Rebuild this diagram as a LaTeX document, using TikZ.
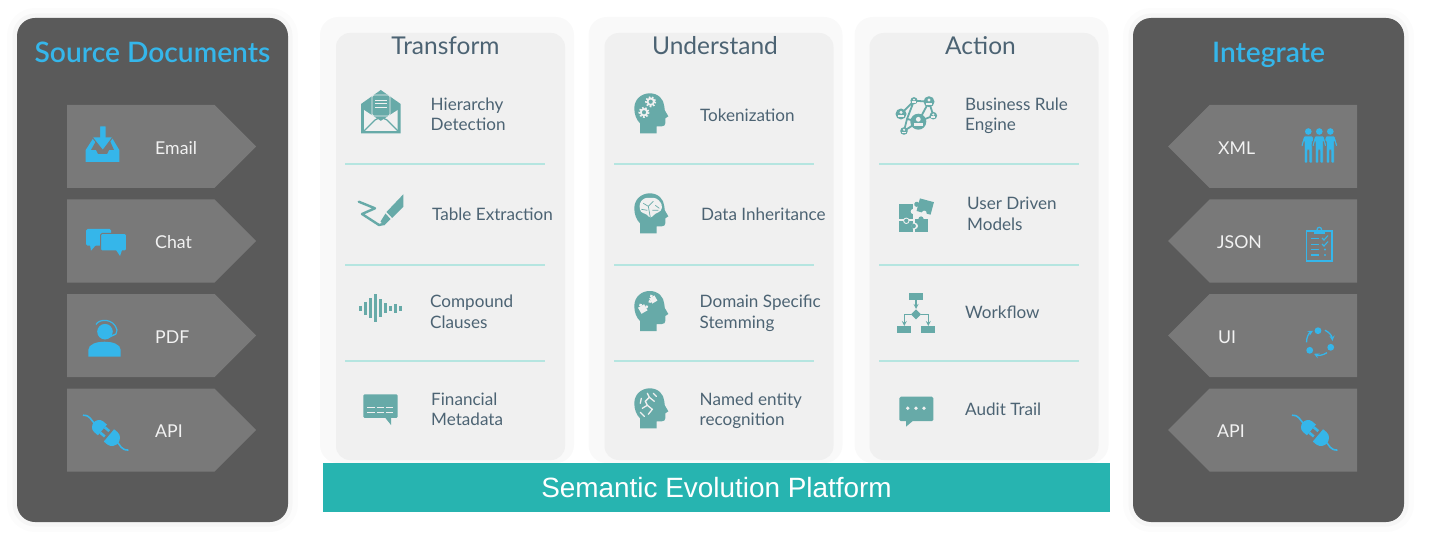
\documentclass[tikz,border=0pt]{standalone}
\usepackage{fontspec}
\setmainfont{Lato}
\newfontfamily\barfont{Liberation Sans}
\newfontfamily\titlefont{Lato Semibold}
\usetikzlibrary{positioning,arrows,shapes.symbols}

\definecolor{darkpanel}{HTML}{5A5A5A}
\definecolor{chevgray}{HTML}{797979}
\definecolor{skyblue}{HTML}{35B6EA}
\definecolor{lightpanel}{HTML}{F0F0F0}
\definecolor{softglow}{HTML}{F9F9F9}
\definecolor{haloA}{HTML}{FCFCFC}
\definecolor{haloB}{HTML}{F6F6F6}
\definecolor{slatetext}{HTML}{4C6373}
\definecolor{icontint}{HTML}{67AAA8}
\definecolor{rulemint}{HTML}{B5E5E0}
\definecolor{barteal}{HTML}{27B4B0}

\tikzset{
    sidepanel/.style={rectangle, rounded corners=18pt, fill=darkpanel, inner sep=0, outer sep=0,
        minimum width=271pt, minimum height=504pt,
        preaction={draw=haloA, line width=20pt}, preaction={draw=haloB, line width=9pt}},
    columnglow/.style={rectangle, rounded corners=18pt, fill=softglow, inner sep=0,
        minimum width=254pt, minimum height=446pt},
    columnpanel/.style={rectangle, rounded corners=14pt, fill=lightpanel, inner sep=0,
        minimum width=229pt, minimum height=427pt},
    chevron/.style={signal, signal to=#1, signal pointer angle=90, fill=chevgray, inner sep=0, outer sep=0,
        minimum width=189pt, minimum height=83pt},
    sidetitle/.style={text=skyblue, anchor=base, inner sep=0, font=\fontsize{28.2}{30}\selectfont\titlefont},
    sidelabel/.style={text=white!95!black, inner sep=0, yshift=-1.5pt, font=\fontsize{17.7}{20}\selectfont},
    columntitle/.style={text=slatetext, inner sep=0, font=\fontsize{24.5}{28}\selectfont},
    itemlabel/.style={text=slatetext, anchor=west, align=left, inner sep=0, font=\fontsize{17.1}{20.5}\selectfont},
    itemrule/.style={draw=rulemint, line width=1.3pt}
}

\newcommand{\plugicon}[2]{
    \begin{scope}[shift={(#1,#2)}, rotate=-40]
        \fill[skyblue] (-4,-7) -- (-4,7) -- (-9,7) .. controls (-13,7) and (-15.5,3) .. (-15.5,0)
            .. controls (-15.5,-3) and (-13,-7) .. (-9,-7) -- cycle;
        \fill[skyblue] (-4,-4.8) rectangle (2,-2.2);
        \fill[skyblue] (-4,2.2) rectangle (2,4.8);
        \fill[skyblue] (4.5,-8) -- (4.5,8) -- (9,8) .. controls (14,8) and (16.5,3) .. (16.5,0)
            .. controls (16.5,-3) and (14,-8) .. (9,-8) -- cycle;
        \draw[skyblue, line width=1.6pt, line cap=round] (-15,0) .. controls (-19,0) and (-22.6,-3.5) .. (-28,1);
        \draw[skyblue, line width=1.6pt, line cap=round] (16,0) .. controls (19,0) and (23,3.5) .. (28.5,-1);
    \end{scope}
}
\newcommand{\headicon}[2]{
    \fill[icontint, shift={(#1,#2)}] (5.7,40) -- (5.7,30) .. controls (2,26.5) and (0,21) .. (0,15)
        .. controls (0,6) and (7,0) .. (15.5,0) .. controls (24,0) and (29.5,6) .. (30,13)
        -- (30.5,17) -- (34,23) -- (31,25) -- (31,30) .. controls (31,32) and (29.5,33) .. (27.5,33)
        -- (22.3,33) -- (22.3,40) -- cycle;
}
\newcommand{\gearicon}[3]{
    \draw[lightpanel, line width=2pt, dash pattern=on 1.6pt off 1.6pt] (#1,#2) circle[radius=#3];
    \draw[lightpanel, line width=1.8pt] (#1,#2) circle[radius=#3-1.4];
}
\newcommand{\figureicon}[2]{
    \fill[skyblue, draw=chevgray, line width=0.7pt, shift={(#1,#2)}, rounded corners=0.8pt]
        (-4.5,8) -- (4.5,8) -- (7.5,18) -- (5.5,19) -- (4,13) -- (4,35) -- (0.7,35) -- (0.7,22)
        -- (-0.7,22) -- (-0.7,35) -- (-4,35) -- (-4,13) -- (-5.5,19) -- (-7.5,18) -- cycle;
    \fill[skyblue] (#1,#2+3.5) circle[radius=3.3];
}
\newcommand{\netnode}[3]{
    \fill[icontint] (#1,#2) circle[radius=#3];
    \fill[lightpanel] (#1,#2-#3*0.3) circle[radius=#3*0.3];
    \fill[lightpanel] (#1-#3*0.55,#2+#3*0.6) rectangle (#1+#3*0.55,#2+#3*0.15);
}

\begin{document}
\begin{tikzpicture}[x=1pt, y=-1pt]
    \useasboundingbox (0,0) rectangle (1430,548);

    %Panels
    \node[sidepanel] (srcpanel) at (152.5,270) {};
    \node[sidepanel] (intpanel) at (1268.5,270) {};
    \node[columnglow] (transglow) at (447,240) {};
    \node[columnglow] (undglow) at (715.5,240) {};
    \node[columnglow] (actglow) at (981.5,240) {};
    \node[columnpanel] (transpanel) at (450.5,246.5) {};
    \node[columnpanel] (undpanel) at (719,246.5) {};
    \node[columnpanel] (actpanel) at (984,246.5) {};
    \node[rectangle, fill=barteal, text=white, inner sep=0, minimum width=787pt, minimum height=49pt,
        font=\fontsize{27.9}{30}\selectfont\barfont] (platform) at (716.5,487.5) {Semantic Evolution Platform};

    %Titles
    \node[sidetitle] (srctitle) at (152.5,62.5) {Source Documents};
    \node[sidetitle] (inttitle) at (1268.5,62.5) {Integrate};
    \node[columntitle] (transtitle) at (445.5,46) {Transform};
    \node[columntitle] (undtitle) at (715,46) {Understand};
    \node[columntitle] (acttitle) at (980.5,46) {Action};

    %Left chevrons
    \node[chevron=east, anchor=west] (email) at (67,146.5) {};
    \node[chevron=east] (chat)  [below=11.5pt of email] {};
    \node[chevron=east] (pdf)   [below=11.5pt of chat]  {};
    \node[chevron=east] (apisrc) [below=11.5pt of pdf]  {};
    \node[sidelabel] (emaillabel) [right=88pt of email.west]  {Email};
    \node[sidelabel] (chatlabel)  [right=88pt of chat.west]   {Chat};
    \node[sidelabel] (pdflabel)   [right=88pt of pdf.west]    {PDF};
    \node[sidelabel] (apisrclabel) [right=88pt of apisrc.west] {API};

    %Right chevrons
    \node[chevron=west, anchor=east] (xml)  at (1357,146.5) {};
    \node[chevron=west] (json) [below=11.5pt of xml]  {};
    \node[chevron=west] (ui)   [below=11.5pt of json] {};
    \node[chevron=west] (apiint) [below=11.5pt of ui] {};
    \node[sidelabel] (xmllabel)  [right=50pt of xml.west]    {XML};
    \node[sidelabel] (jsonlabel) [right=49pt of json.west]   {JSON};
    \node[sidelabel] (uilabel)   [right=50pt of ui.west]     {UI};
    \node[sidelabel] (apiintlabel) [right=49pt of apiint.west] {API};

    %Column items
    \node[itemlabel] (hierarchy) at (430.5,114.5) {Hierarchy\\Detection};
    \node[itemlabel] (tablex)    at (432,214)   {Table Extraction};
    \node[itemlabel] (compound)  at (430,312)   {Compound\\Clauses};
    \node[itemlabel] (financial) at (431,409.5) {Financial\\Metadata};
    \node[itemlabel] (token)     at (700,115)   {Tokenization};
    \node[itemlabel] (inherit)   at (701,214)   {Data Inheritance};
    \node[itemlabel] (domain)    at (699.5,313.5) {Domain Specific\\Stemming};
    \node[itemlabel] (named)     at (699.5,411) {Named entity\\recognition};
    \node[itemlabel] (business)  at (965,116)   {Business Rule\\Engine};
    \node[itemlabel] (userdriven) at (967,214)  {User Driven\\Models};
    \node[itemlabel] (workflow)  at (965,312)   {Workflow};
    \node[itemlabel] (audit)     at (965,409)   {Audit Trail};

    %Rules
    \draw[itemrule] (345,164) -- (545,164) (345,265) -- (545,265) (345,361) -- (545,361);
    \draw[itemrule] (614,164) -- (814,164) (614,265) -- (814,265) (614,361) -- (814,361);
    \draw[itemrule] (879,164) -- (1079,164) (879,265) -- (1079,265) (879,361) -- (1079,361);

    %Inbox icon
    \fill[skyblue] (85.7,162) -- (85.7,150) -- (94,137) -- (111.5,137) -- (119.3,150) -- (119.3,162) -- cycle;
    \fill[chevgray] (91,150) -- (96,141) -- (110,141) -- (114,150) -- (109,150) -- (107,154) -- (98,154) -- (96,150) -- cycle;
    \fill[chevgray] (89,134) rectangle (116,137);
    \fill[skyblue, draw=chevgray, line width=1pt] (99.5,126) -- (106,126) -- (106,137) -- (113,137) -- (102.8,150.5) -- (92,137) -- (99.5,137) -- cycle;

    %Chat icon
    \fill[skyblue, rounded corners=1.5pt] (86,229) rectangle (111,245.7);
    \fill[skyblue] (90,245) -- (91,250.7) -- (96,245) -- cycle;
    \fill[skyblue, draw=chevgray, line width=1pt, rounded corners=1.5pt] (100.5,233.5) rectangle (126.5,251);
    \fill[skyblue] (116,250) -- (120,256) -- (122,250) -- cycle;

    %Support icon
    \fill[skyblue] (105,331.7) circle[radius=7.8];
    \fill[skyblue] (88.3,356.7) -- (88.3,350) .. controls (88.3,344) and (97,341.7) .. (104.5,341.7)
        .. controls (112,341.7) and (120.7,344) .. (120.7,350) -- (120.7,356.7) -- cycle;
    \draw[skyblue, line width=1.2pt] (96,324.5) .. controls (99,318.5) and (114,318) .. (117,330) -- (116,334);
    \draw[skyblue, line width=1.4pt] (116,334) -- (107,338);

    %Plug icons
    \plugicon{105.5}{432.5}
    \plugicon{1314.5}{432.5}

    %People icon
    \figureicon{1308.3}{128}
    \figureicon{1330.3}{128}
    \figureicon{1319.3}{128}

    %Clipboard icon
    \draw[skyblue, line width=1.5pt] (1306.5,231) rectangle (1332,261);
    \fill[skyblue] (1314,231) rectangle (1325,234.5);
    \draw[skyblue, line width=1.2pt] (1319.3,229.5) circle[radius=2.2];
    \draw[skyblue, line width=1.1pt] (1311,238.5) -- (1319,238.5) (1311,244.3) -- (1319,244.3)
        (1311,249.5) -- (1319,249.5) (1311,255) -- (1319,255);
    \draw[skyblue, line width=1.1pt] (1322,238) -- (1324,240) -- (1328,235.5) (1322,244) -- (1324,246) -- (1328,241.5);
    \fill[skyblue] (1325,249.5) circle[radius=1.2] (1325,255) circle[radius=1.2];

    %Cycle icon
    \fill[skyblue] (1318,330.7) circle[radius=3.4] (1330.7,347.3) circle[radius=3.4] (1309.7,350.3) circle[radius=3.4];
    \begin{scope}[shift={(1319.5,342)}]
        \draw[->, >=stealth, skyblue, line width=1.3pt] (-65:13) arc[start angle=-65, end angle=-5, radius=13];
        \draw[->, >=stealth, skyblue, line width=1.3pt] (55:13) arc[start angle=55, end angle=115, radius=13];
        \draw[->, >=stealth, skyblue, line width=1.3pt] (178:13) arc[start angle=178, end angle=240, radius=13];
    \end{scope}

    %Envelope icon
    \fill[icontint] (361,133.3) -- (361,104) -- (380.8,90) -- (400.7,104) -- (400.7,133.3) -- cycle;
    \fill[lightpanel] (364,110) -- (380.8,121) -- (397.7,110) -- (397.7,131) -- (364,131) -- cycle;
    \draw[icontint, line width=1.3pt] (363,132) -- (375,120) -- (380.8,117) -- (387,120) -- (399,132);
    \fill[icontint, draw=lightpanel, line width=0.8pt, rounded corners=1.5pt] (372,95) rectangle (390,116);
    \draw[lightpanel, line width=0.9pt] (375,100) -- (387,100) (375,103.5) -- (387,103.5) (375,107) -- (387,107);

    %Pen icon
    \draw[icontint, line width=2.4pt, line cap=round, line join=round] (358.8,201.7) -- (375,208.3) -- (362,214) -- (379,225) -- (383.5,224);
    \fill[icontint] (403.3,194.3) -- (403.3,206.7) -- (392.2,218) -- (386.5,212) -- cycle;
    \fill[icontint] (385.5,213.5) -- (390.5,219) -- (384,225.5) -- (380.5,221.5) -- cycle;

    %Waveform icon
    \draw[icontint, line width=2.6pt]
        (360.7,305.8) -- (360.7,310.8) (365.7,301.8) -- (365.7,314.8) (370.7,298.3) -- (370.7,318.3)
        (375.7,294.3) -- (375.7,322.3) (380.7,299.3) -- (380.7,317.3) (385.7,303.3) -- (385.7,313.3)
        (390.7,305.8) -- (390.7,310.8) (395.7,303.8) -- (395.7,312.8) (400.3,305.8) -- (400.3,310.8);

    %Dashed note icon
    \fill[icontint, rounded corners=1.2pt] (363.3,394.3) rectangle (397.7,417.9);
    \fill[icontint] (385,417.5) -- (391,425) -- (391,417.5) -- cycle;
    \draw[lightpanel, line width=1.2pt] (367.3,407.7) -- (375,407.7) (377,407.7) -- (384,407.7) (386,407.7) -- (393.3,407.7)
        (367.3,412.3) -- (375,412.3) (377,412.3) -- (384,412.3) (386,412.3) -- (393.3,412.3);

    %Gear head icon
    \headicon{634.3}{93.3}
    \gearicon{650.7}{101.7}{4.6}
    \gearicon{644}{112.3}{4.6}

    %Brain head icon
    \headicon{634.3}{193.3}
    \begin{scope}[shift={(634.3,193.3)}]
        \fill[lightpanel, rounded corners=3pt] (5,10) -- (10,4.5) -- (22,4.5) -- (28,11) -- (27,18) -- (21,20)
            -- (16,25.5) -- (13,21) -- (6,19) -- cycle;
        \draw[icontint, line width=0.7pt] (9,10) -- (14,13) -- (19,8) (14,13) -- (16,24) (21,12) -- (25,15)
            (7,16) -- (13,17) (18,17) -- (24,17);
    \end{scope}

    %Puzzle head icon
    \headicon{634.3}{291}
    \begin{scope}[shift={(634.3,291)}]
        \begin{scope}[shift={(8.5,18)}, rotate=30]
            \fill[lightpanel] (-3.5,-3.5) rectangle (3.5,3.5);
            \fill[lightpanel] (0,-4.5) circle[radius=1.7] (4.5,0) circle[radius=1.7];
        \end{scope}
        \begin{scope}[shift={(19,8.5)}, rotate=30]
            \fill[lightpanel] (-3,-3) rectangle (3,3);
            \fill[lightpanel] (0,-4) circle[radius=1.6] (-4,0) circle[radius=1.6];
        \end{scope}
    \end{scope}

    %Circuit head icon
    \headicon{634.3}{388.3}
    \begin{scope}[shift={(634.3,388.3)}]
        \draw[lightpanel, line width=1.3pt, line cap=round] (13,5) -- (15,9) -- (11,13) -- (13,17) -- (8,20)
            (19,5) -- (22,8) (15,9) -- (20,13) (13,17) -- (18,21) -- (14,26) (7,10) -- (6,15) (6,24) -- (10,28);
    \end{scope}

    %Network icon
    \draw[icontint, line width=1.8pt] (901,114) -- (914,100.7) -- (929,101.7) -- (933.3,115.7) -- (918.3,121.7) -- (904,131)
        (914,100.7) -- (907,119) -- (904,131) (907,119) -- (918.3,121.7) (929,101.7) -- (918.3,121.7);
    \netnode{901}{114}{5.5}
    \netnode{914}{100.7}{3.6}
    \netnode{929}{101.7}{5.5}
    \netnode{918.3}{121.7}{8}
    \netnode{933.3}{115.7}{3.8}
    \netnode{904}{131}{3.8}

    %Jigsaw icon
    \fill[icontint] (899.3,204) rectangle (913.3,219.3);
    \fill[icontint] (899.3,220.8) rectangle (913.3,232.3);
    \fill[icontint] (914.8,219.3) rectangle (927.7,232.3);
    \fill[lightpanel] (913.3,211.5) circle[radius=2.6] (906.3,220.8) circle[radius=3.2] (914.8,226) circle[radius=3.2];
    \fill[icontint] (906.3,220.8) circle[radius=2.1] (913.6,226) circle[radius=2.3] (921,219) circle[radius=2.6];
    \begin{scope}[shift={(925,206.5)}, rotate=-15]
        \fill[icontint] (-7,-6.5) rectangle (7.5,6.5);
        \fill[icontint] (-8.5,0) circle[radius=2.6];
        \fill[lightpanel] (1,6.5) circle[radius=2.4];
    \end{scope}

    %Flowchart icon
    \fill[icontint] (909.3,292.7) rectangle (923.3,300);
    \fill[icontint] (897.3,326) rectangle (911.3,333.3);
    \fill[icontint] (921.3,326) rectangle (935.3,333.3);
    \fill[icontint] (916,309.3) -- (921,314.3) -- (916,319.3) -- (911,314.3) -- cycle;
    \draw[->, >=stealth, icontint, line width=1.2pt] (916,300) -- (916,309);
    \draw[->, >=stealth, icontint, line width=1.2pt] (911,314.3) -- (904.3,314.3) -- (904.3,326);
    \draw[->, >=stealth, icontint, line width=1.2pt] (921,314.3) -- (928.3,314.3) -- (928.3,326);

    %Speech icon
    \fill[icontint, rounded corners=1.5pt] (899.3,396.7) rectangle (933.3,421.2);
    \fill[icontint] (906,420.5) -- (906,426.7) -- (913.3,420.5) -- cycle;
    \fill[lightpanel] (907.7,408.3) circle[radius=1.9] (916,408.3) circle[radius=1.9] (924,408.3) circle[radius=1.9];
\end{tikzpicture}
\end{document}
